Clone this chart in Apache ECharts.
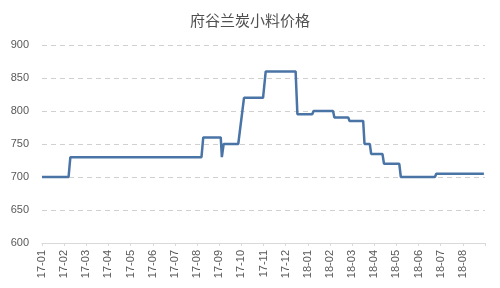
<!DOCTYPE html>
<html>
<head>
<meta charset="utf-8">
<script src="https://cdn.jsdelivr.net/npm/echarts@6/dist/echarts.min.js"></script>
<style>html,body{margin:0;padding:0;background:#fff;}#c{width:500px;height:288px;}</style>
</head>
<body>
<div id="c"></div>
<script>
var titleText = '府谷兰炭小料价格';
var monthLabels = ['17-01','17-02','17-03','17-04','17-05','17-06','17-07','17-08','17-09','17-10','17-11','17-12','18-01','18-02','18-03','18-04','18-05','18-06','18-07','18-08'];
// position in months since 17-01 (fractional) and price
var monthPos = [0, 1.2, 1.28, 7.2, 7.28, 8.07, 8.12, 8.15, 8.2, 8.86, 9.12, 9.98, 10.1, 11.45, 11.53, 12.2, 12.26, 13.14, 13.2, 13.83, 13.88, 14.5, 14.56, 14.8, 14.86, 15.37, 15.44, 16.13, 16.2, 17.74, 17.8, 19.95];
var prices   = [700, 700, 730, 730, 760, 760, 730, 730, 750, 750, 820, 820, 860, 860, 795, 795, 800, 800, 790, 790, 785, 785, 750, 750, 735, 735, 720, 720, 700, 700, 705, 705];
var yTicks = [600, 650, 700, 750, 800, 850, 900];

var data = monthPos.map(function(m, i){ return [m, prices[i]]; });
var chart = echarts.init(document.getElementById('c'));
chart.setOption({
  animation: false,
  backgroundColor: '#ffffff',
  title: {
    text: titleText, left: 'center', top: 8,
    textStyle: {fontFamily: 'Noto Sans CJK SC', fontSize: 15, fontWeight: 'normal', color: '#505050'}
  },
  grid: {left: 42, right: 15, top: 45, bottom: 45},
  xAxis: {
    type: 'value', min: 0, max: 20, interval: 1,
    axisLine: {show: true, lineStyle: {color: '#d9d9d9', width: 1}},
    axisTick: {show: true, length: 3, lineStyle: {color: '#d9d9d9'}},
    splitLine: {show: false},
    axisLabel: {
      rotate: 90, margin: 7, fontSize: 11, color: '#595959', fontFamily: 'Liberation Sans',
      formatter: function(v){ return monthLabels[Math.round(v)] || ''; }
    }
  },
  yAxis: {
    type: 'value', min: yTicks[0], max: yTicks[yTicks.length-1], interval: 50,
    axisLine: {show: false}, axisTick: {show: false},
    splitLine: {show: true, lineStyle: {color: '#d0d0d0', type: [5, 4], width: 1}},
    axisLabel: {fontSize: 11, color: '#595959', margin: 13, fontFamily: 'Liberation Sans'}
  },
  series: [{
    type: 'line', data: data, showSymbol: false, symbol: 'none',
    lineStyle: {color: '#4a74a6', width: 2.5}
  }]
});
</script>
</body>
</html>
